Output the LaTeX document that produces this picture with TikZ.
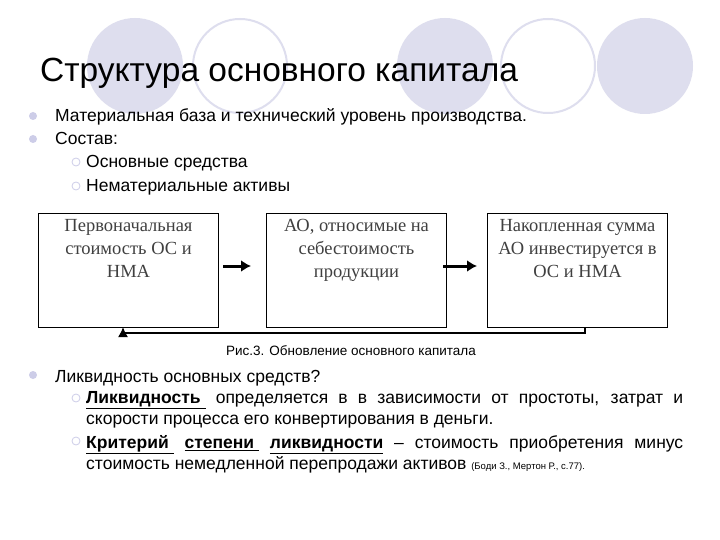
\documentclass[tikz,border=0pt]{standalone}
\usepackage{fontspec}
\setmainfont{Liberation Sans}
\newfontfamily\serifx{Liberation Serif}
\usetikzlibrary{arrows.meta}
\definecolor{lav}{RGB}{205,205,232}
\definecolor{circl}{RGB}{222,222,238}
\begin{document}
\begin{tikzpicture}[x=1pt,y=-1pt,
  dot/.style={circle,fill=lav,inner sep=0,minimum size=8pt},
  hdot/.style={circle,draw=lav,fill=white,line width=0.8pt,inner sep=0,minimum size=8pt},
  txt/.style={anchor=base west,inner sep=0,font=\fontsize{17.5}{21}\selectfont},
  box/.style={draw,line width=1pt,anchor=north west,minimum width=180pt,minimum height=114pt,inner sep=0},
  btxt/.style={anchor=north,align=center,font=\serifx\fontsize{18.5}{23}\selectfont,text=black!75},
  arr/.style={line width=3pt,-{Latex[length=10pt,width=12pt]}}]
\useasboundingbox (0,0) rectangle (720,540);
\fill[white] (0,0) rectangle (720,540);
\foreach \cx/\f in {135/1,240/0,445/1,548/0,645/1}{
  \ifnum\f=1 \fill[circl] (\cx,66) circle (48);
  \else \draw[circl,line width=2pt] (\cx,66) circle (47); \fi}
\node[anchor=base west,inner sep=0,font=\fontsize{33.5}{38}\selectfont] (title) at (40,82) {Структура основного капитала};
\node[dot] (d1) at (33,116) {};
\node[txt] (t1) at (55,122) {Материальная база и технический уровень производства.};
\node[dot] (d2) at (33,139) {};
\node[txt] (t2) at (55,145) {Состав:};
\node[hdot] (d3) at (76,162) {};
\node[txt] (t3) at (86,168) {Основные средства};
\node[hdot] (d4) at (76,186) {};
\node[txt] (t4) at (86,192) {Нематериальные активы};
\node[box] (b1) at (38,213) {};
\node[box] (b2) at (266,213) {};
\node[box] (b3) at (487,213) {};
\node[btxt] at ([yshift=-3pt]b1.north) {Первоначальная\\стоимость ОС и\\НМА};
\node[btxt] at ([yshift=-3pt]b2.north) {АО, относимые на\\себестоимость\\продукции};
\node[btxt] at ([yshift=-3pt]b3.north) {Накопленная сумма\\АО инвестируется в\\ОС и НМА};
\coordinate (a1s) at (223,266); \coordinate (a1e) at (251,266);
\coordinate (a2s) at (443,266); \coordinate (a2e) at (477,266);
\draw[arr] (a1s) -- (a1e);
\draw[arr] (a2s) -- (a2e);
\coordinate (f1) at (585,327);
\coordinate (f2) at (123,327);
\draw[line width=1.5pt,-{Latex[length=10pt,width=10pt]}] (f1) -- ++(0,6) -| (f2);
\node[anchor=base,inner sep=0,font=\fontsize{13.5}{16}\selectfont] (cap) at (351,355) {Рис.3. Обновление основного капитала};
\node[dot] (d5) at (33,375) {};
\node[txt] (t5) at (55,382) {Ликвидность основных средств?};
\node[hdot] (d6) at (76,398) {};
\node[anchor=north west,inner sep=0,text width=597pt,align=justify,font=\fontsize{17.5}{21}\selectfont] (t6) at (86,391)
 {\textbf{\underline{Ликвидность }} определяется в в зависимости от простоты, затрат и скорости процесса его конвертирования в деньги.};
\node[hdot] (d7) at (76,441) {};
\node[anchor=north west,inner sep=0,text width=597pt,align=justify,font=\fontsize{17.5}{21}\selectfont] (t7) at (86,435)
 {\textbf{\underline{Критерий }} \textbf{\underline{степени }} \textbf{\underline{ликвидности}} – стоимость приобретения минус стоимость немедленной перепродажи активов {\fontsize{9.5}{11}\selectfont (Боди З., Мертон Р., с.77).}};
\end{tikzpicture}
\end{document}
